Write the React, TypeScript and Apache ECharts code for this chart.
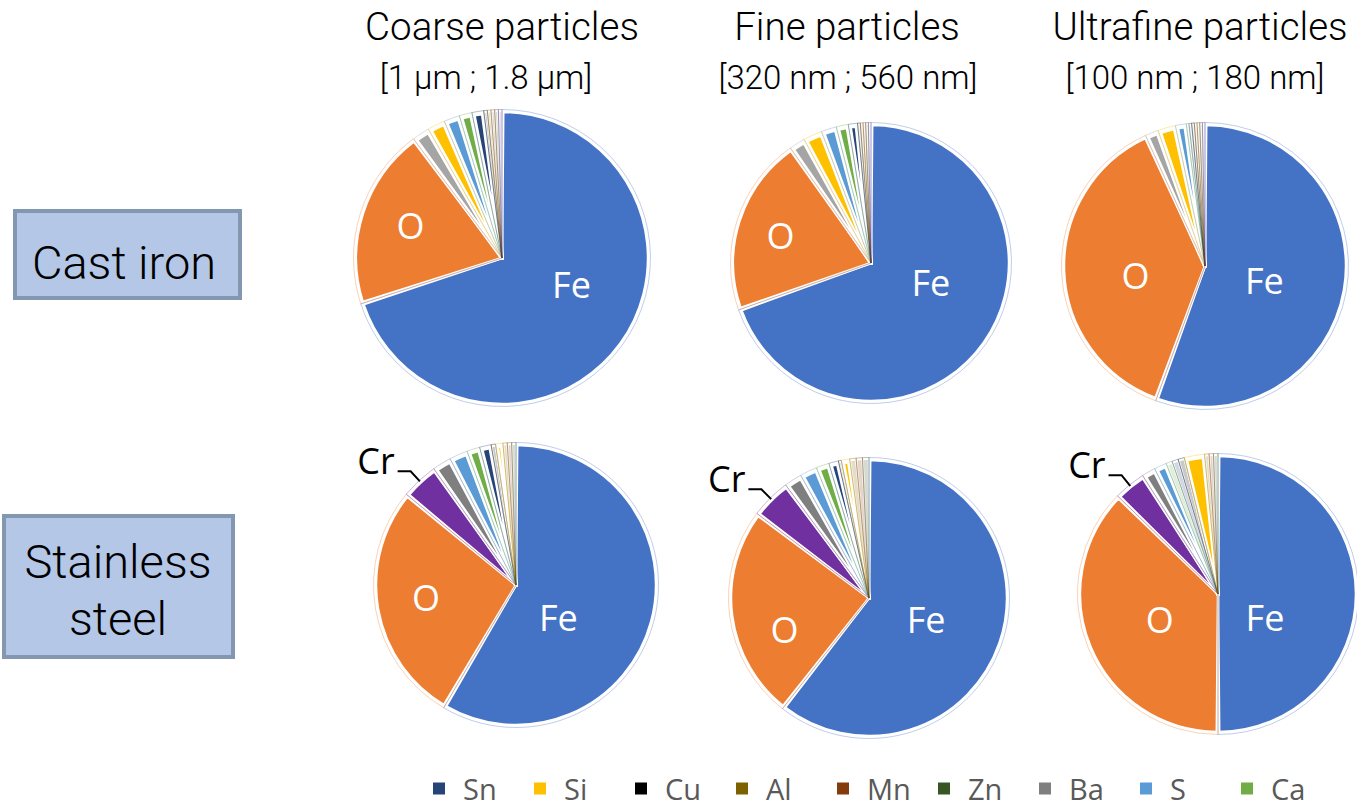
import { useEffect, useRef } from 'react';
import * as echarts from 'echarts';

// ---- data (mass fraction %) ----
const castIronOrder = ['Fe', 'O', 'Ba', 'Si', 'S', 'Ca', 'Sn', 'Cu', 'Al', 'Mn', 'Zn', 'Cr'];
const stainlessOrder = ['Fe', 'O', 'Cr', 'Ba', 'S', 'Ca', 'Sn', 'Cu', 'Si', 'Al', 'Mn', 'Zn'];

const castIronCoarse = [70.0, 19.83, 1.9, 1.92, 1.71, 1.39, 1.28, 0.39, 0.39, 0.4, 0.4, 0.39];
const castIronFine = [69.58, 20.69, 1.83, 2.17, 1.75, 1.39, 1.06, 0.31, 0.31, 0.3, 0.31, 0.3];
const castIronUltrafine = [55.58, 37.61, 1.5, 2.0, 1.22, 0.3, 0.3, 0.3, 0.3, 0.3, 0.3, 0.29];
const stainlessCoarse = [58.47, 27.53, 4.21, 2.13, 2.08, 1.47, 1.31, 0.5, 0.83, 0.49, 0.49, 0.49];
const stainlessFine = [60.56, 24.72, 4.61, 2.03, 1.97, 1.5, 1.11, 0.33, 0.97, 0.73, 0.73, 0.74];
const stainlessUltrafine = [50.0, 37.31, 3.67, 1.57, 1.43, 0.72, 0.72, 0.72, 2.33, 0.51, 0.51, 0.51];

const legendNames = ['Sn', 'Si', 'Cu', 'Al', 'Mn', 'Zn', 'Ba', 'S', 'Ca'];
const columnTitles = ['Coarse particles', 'Fine particles', 'Ultrafine particles'];
const columnRanges = ['[1 µm ; 1.8 µm]', '[320 nm ; 560 nm]', '[100 nm ; 180 nm]'];
const rowTitles = ['Cast iron', 'Stainless steel'];

// ---- styles ----
const elementColors: Record<string, string> = {
  Fe: '#4472C4', O: '#ED7D31', Cr: '#7030A0', Ba: '#7F7F7F', Si: '#FFC000', S: '#5B9BD5',
  Ca: '#70AD47', Sn: '#264478', Cu: '#000000', Al: '#7F6000', Mn: '#843C0C', Zn: '#375623',
};
const castIronColors: Record<string, string> = { ...elementColors, Ba: '#A5A5A5' };

type Pie = {
  values: number[]; order: string[]; colors: Record<string, string>;
  center: [number, number]; r: number; shifts: Record<string, [number, number]>; crLabel: boolean;
};

const pies: Pie[] = [
  { values: castIronCoarse, order: castIronOrder, colors: castIronColors, center: [502, 258], r: 146, shifts: { Fe: [8, -18], O: [-19, -9] }, crLabel: false },
  { values: castIronFine, order: castIronOrder, colors: castIronColors, center: [871, 263], r: 138, shifts: { Fe: [1, -22], O: [-22, -6] }, crLabel: false },
  { values: castIronUltrafine, order: castIronOrder, colors: castIronColors, center: [1205, 266], r: 141, shifts: { Fe: [-13, 2], O: [4, 7] }, crLabel: false },
  { values: stainlessCoarse, order: stainlessOrder, colors: elementColors, center: [516, 585], r: 140, shifts: { Fe: [-28, 13], O: [-18, 0] }, crLabel: true },
  { values: stainlessFine, order: stainlessOrder, colors: elementColors, center: [869, 598], r: 138, shifts: { Fe: [-11, -2], O: [-13, 22] }, crLabel: true },
  { values: stainlessUltrafine, order: stainlessOrder, colors: elementColors, center: [1218, 594], r: 138, shifts: { Fe: [-25, 23], O: [8, -2] }, crLabel: true },
];

function rgba(hex: string, a: number) {
  const n = parseInt(hex.slice(1), 16);
  return `rgba(${(n >> 16) & 255},${(n >> 8) & 255},${n & 255},${a})`;
}

const labelFont = '"Open Sans", "Noto Sans", sans-serif';
const titleFont = 'Roboto, "Liberation Sans", sans-serif';

// horizontal shift via padding, vertical shift via an empty extra line
function shiftedLabel(name: string, s: [number, number]) {
  const [sx, sy] = s;
  const padding = [0, sx < 0 ? -2 * sx : 0, 0, sx > 0 ? 2 * sx : 0];
  if (Math.abs(sy) < 1) return { formatter: name, padding, lineHeight: 40 };
  return {
    formatter: sy < 0 ? `${name}\n ` : ` \n${name}`,
    lineHeight: 2 * Math.abs(sy),
    padding,
  };
}

function buildSeries() {
  const series: any[] = [];
  pies.forEach((p) => {
    const fillData = p.order.map((name, i) => {
      const v = p.values[i];
      const item: any = {
        name, value: v,
        itemStyle: { color: p.colors[name], opacity: v < 0.8 ? 0.3 : 1, borderWidth: v < 3 ? 4 : 2.5 },
      };
      if (name === 'Fe' || name === 'O') {
        item.label = {
          show: true, position: 'inside', color: '#fff', fontSize: 36,
          fontFamily: labelFont, ...shiftedLabel(name, p.shifts[name]),
        };
      }
      if (name === 'Cr' && p.crLabel) {
        item.label = {
          show: true, position: 'outside', color: '#000', fontSize: 36,
          fontFamily: labelFont, distanceToLabelLine: 3,
          formatter: 'Cr\n ', lineHeight: 22,
        };
        item.labelLine = { show: true, length: 15, length2: 13, lineStyle: { color: '#000', width: 2 } };
      }
      return item;
    });
    series.push({
      type: 'pie', center: p.center, radius: p.r, startAngle: 90, clockwise: true,
      padAngle: 1, silent: true, avoidLabelOverlap: false,
      itemStyle: { borderColor: '#fff', borderWidth: 3 },
      label: { show: false }, labelLine: { show: false },
      emphasis: { disabled: true },
      data: fillData,
    });
    series.push({
      type: 'pie', center: p.center, radius: p.r + 2.5, startAngle: 90, clockwise: true,
      silent: true, label: { show: false }, labelLine: { show: false },
      emphasis: { disabled: true },
      data: p.order.map((name, i) => ({
        name, value: p.values[i],
        itemStyle: { color: 'rgba(0,0,0,0)', borderColor: rgba(p.colors[name], 0.35), borderWidth: 1 },
      })),
    });
  });
  return series;
}

const titleX = [502, 847, 1200];
const rangeX = [486, 848, 1195];

function buildGraphic() {
  const boxText = (text: string, x: number, y: number) => ({
    type: 'text', x, y,
    style: { text, fontSize: 47, fontFamily: titleFont, fontWeight: 300, fill: '#000', align: 'center', verticalAlign: 'middle' },
  });
  const g: any[] = [
    { type: 'rect', shape: { x: 15, y: 211, width: 225, height: 87 }, style: { fill: '#B4C7E7', stroke: '#8497B0', lineWidth: 4 } },
    boxText(rowTitles[0], 124, 262),
    { type: 'rect', shape: { x: 4, y: 516, width: 229, height: 141 }, style: { fill: '#B4C7E7', stroke: '#8497B0', lineWidth: 4 } },
    boxText(rowTitles[1].split(' ')[0], 118, 561),
    boxText(rowTitles[1].split(' ')[1], 118, 618),
  ];
  columnTitles.forEach((t, i) => {
    g.push({ type: 'text', x: titleX[i], y: 26, style: { text: t, fontSize: 38.5, fontFamily: titleFont, fontWeight: 300, fill: '#000', align: 'center', verticalAlign: 'middle' } });
    g.push({ type: 'text', x: rangeX[i], y: 77, style: { text: columnRanges[i], fontSize: 33, fontFamily: titleFont, fontWeight: 300, fill: '#000', align: 'center', verticalAlign: 'middle' } });
  });
  return g;
}

export default function App() {
  const ref = useRef<HTMLDivElement>(null);
  useEffect(() => {
    if (!ref.current) return;
    const chart = echarts.init(ref.current, undefined, { renderer: 'svg' });
    chart.setOption({
      animation: false,
      backgroundColor: '#fff',
      legend: {
        left: 433, top: 774, padding: 0, icon: 'rect', itemWidth: 12, itemHeight: 12, itemGap: 13,
        selectedMode: false,
        textStyle: { fontSize: 29, color: '#595959', fontFamily: labelFont, width: 58, overflow: 'none', padding: [0, 0, 0, 13], lineHeight: 28 },
        data: legendNames.map((n) => ({ name: n, itemStyle: { color: elementColors[n], opacity: 1, borderWidth: 0 } })),
      },
      graphic: buildGraphic(),
      series: buildSeries(),
    });
    return () => chart.dispose();
  }, []);
  return <div ref={ref} style={{ position: 'absolute', left: 0, top: 0, width: 1357, height: 809 }} />;
}
